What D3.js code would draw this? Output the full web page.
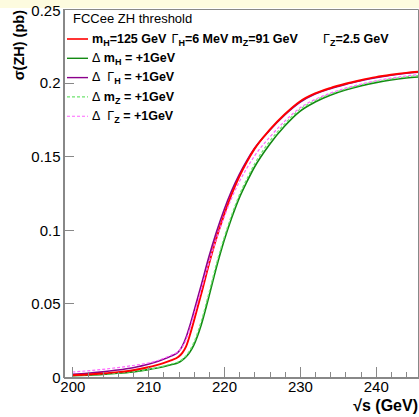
<!DOCTYPE html>
<html>
<head>
    <meta charset='utf-8' />
    <title>FCCee ZH threshold</title>
    <script src="https://cdn.jsdelivr.net/npm/d3@7"></script>
	<style type="text/css">
		body { margin: 0; background: #fff; }
		svg { display: block; font-family: "Liberation Sans", Arial, Helvetica, sans-serif; }
		.axis path, .axis line { fill: none; stroke: #888; shape-rendering: crispEdges; }
		.tick text { font-size: 15px; fill: #000; }
		.curve { fill: none; }
	</style>
</head>
<body>
<div id="chart"></div>

<script type="text/javascript">
	// sqrt(s) sample points (GeV)
	var energies = [200,202,204,206,208,210,211,212,213,214,214.5,215,215.5,216,217,218,219,220,221,222,223,224,226,228,230,232,234,236,238,240,242,244,246];

	// sigma(ZH) in pb
	var nominal = [0.0012,0.0017,0.0024,0.0033,0.0046,0.0066,0.0079,0.0094,0.0113,0.0138,0.0164,0.0208,0.0285,0.0375,0.0565,0.0765,0.0945,0.110,0.124,0.136,0.146,0.1548,0.1678,0.1785,0.1872,0.1926,0.1963,0.1992,0.2016,0.2037,0.2053,0.2066,0.2075];
	var dMH = [0.0009,0.0013,0.0018,0.0025,0.0035,0.0050,0.0059,0.0070,0.0083,0.0098,0.0115,0.0138,0.0170,0.0215,0.0355,0.0545,0.0745,0.0925,0.108,0.1215,0.1325,0.1425,0.158,0.1705,0.1805,0.1868,0.1914,0.1949,0.1977,0.2000,0.2018,0.2031,0.2040];
	var dGH = [0.0018,0.0025,0.0035,0.0047,0.0063,0.0086,0.0102,0.0120,0.0142,0.0172,0.021,0.027,0.035,0.044,0.0625,0.0815,0.0985,0.1135,0.1265,0.1375,0.147,0.1552,0.1675,0.178,0.1866,0.1922,0.1959,0.1988,0.2012,0.2033,0.2050,0.2063,0.2072];
	var dMZ = [0.0010,0.0014,0.0019,0.0026,0.0037,0.0052,0.0062,0.0074,0.0088,0.0103,0.0120,0.0145,0.0182,0.0232,0.038,0.057,0.077,0.0945,0.110,0.1235,0.1345,0.1445,0.160,0.172,0.1818,0.1878,0.1922,0.1956,0.1984,0.2007,0.2025,0.2039,0.2050];
	var dGZ = [0.0034,0.0042,0.0052,0.0064,0.0078,0.0095,0.0108,0.0126,0.0148,0.0176,0.0205,0.0255,0.033,0.0415,0.0595,0.0775,0.094,0.1085,0.1215,0.1325,0.1418,0.150,0.1628,0.1738,0.1828,0.1886,0.1928,0.1962,0.1989,0.2012,0.2030,0.2045,0.2056];

	var xTicks = [200, 210, 220, 230, 240];
	var yTicks = [0, 0.05, 0.1, 0.15, 0.2, 0.25];

	var width = 419, height = 417;
	var frameL = 63, frameR = 418, frameT = 9, frameB = 377;

	var series = [
		{name: "dMH", values: dMH, color: "#138a13", width: 1.6, dash: null},
		{name: "dMZ", values: dMZ, color: "#6ee36e", width: 1.2, dash: "3,2"},
		{name: "dGH", values: dGH, color: "#8b008b", width: 1.6, dash: null},
		{name: "nominal", values: nominal, color: "#ff0000", width: 1.9, dash: null},
		{name: "dGZ", values: dGZ, color: "#ff66ff", width: 1.2, dash: "3,2"}
	];

	var svg = d3.select("#chart").append("svg")
		.attr("width", width)
		.attr("height", height);

	// pale band on top
	svg.append("rect").attr("x", 0).attr("y", 0).attr("width", width).attr("height", 8).attr("fill", "#fdfbdf");

	var x = d3.scaleLinear().domain([198.77, 245.57]).range([frameL, frameR]);
	var y = d3.scaleLinear().domain([0, 0.25]).range([frameB, frameT]);

	svg.append("clipPath").attr("id", "frame")
		.append("rect").attr("x", frameL).attr("y", frameT).attr("width", frameR - frameL).attr("height", frameB - frameT);

	// frame top / right
	svg.append("path")
		.attr("d", "M" + frameL + "," + (frameT + 0.5) + "H" + (frameR + 0.5) + "V" + frameB)
		.attr("fill", "none").attr("stroke", "#888").attr("stroke-width", 1);

	var line = d3.line()
		.x(function(d) { return x(d[0]); })
		.y(function(d) { return y(d[1]); })
		.curve(d3.curveMonotoneX);

	svg.append("g").attr("clip-path", "url(#frame)")
		.selectAll(".curve")
		.data(series)
	  .enter().append("path")
		.attr("class", "curve")
		.attr("d", function(s) { return line(energies.map(function(e, i) { return [e, s.values[i]]; })); })
		.attr("stroke", function(s) { return s.color; })
		.attr("stroke-width", function(s) { return s.width; })
		.attr("stroke-dasharray", function(s) { return s.dash; });

	// x axis: minor ticks then majors (inside)
	var minor = d3.range(200, 246, 2).filter(function(v) { return xTicks.indexOf(v) < 0; });
	svg.append("g").attr("class", "x axis minor")
		.attr("transform", "translate(0," + frameB + ")")
		.call(d3.axisTop(x).tickValues(minor).tickSize(5).tickFormat(""))
		.call(function(g) { g.select(".domain").remove(); });

	svg.append("g").attr("class", "x axis")
		.attr("transform", "translate(0," + frameB + ")")
		.call(d3.axisTop(x).tickValues(xTicks).tickSizeInner(10).tickSizeOuter(0).tickFormat(d3.format("d")))
		.call(function(g) {
			g.select(".domain").attr("stroke-width", 2);
			g.selectAll(".tick text").attr("y", 15).attr("dy", 0);
		});

	svg.append("g").attr("class", "y axis")
		.attr("transform", "translate(" + frameL + ",0)")
		.call(d3.axisRight(y).tickValues(yTicks).tickSizeInner(11).tickSizeOuter(0).tickFormat(function(d) { return String(+d.toFixed(2)); }))
		.call(function(g) {
			g.select(".domain").attr("stroke-width", 2);
			g.selectAll(".tick text").attr("x", -2.5).attr("text-anchor", "end").attr("dy", "0.35em");
			g.selectAll(".tick").filter(function(d) { return d === 0.25; }).select("text").attr("dy", "0.45em");
		});

	// axis titles
	svg.append("text")
		.attr("x", frameR).attr("y", 411)
		.attr("text-anchor", "end")
		.attr("font-size", 16).attr("font-weight", "bold")
		.text("\u221As (GeV)");

	svg.append("text")
		.attr("transform", "translate(24,10) rotate(-90)")
		.attr("text-anchor", "end")
		.attr("font-size", 14.5).attr("font-weight", "bold")
		.text("\u03C3(ZH) (pb)");

	// legend
	var legend = svg.append("g");
	legend.append("text").attr("x", 73).attr("y", 22.7).attr("font-size", 13).text("FCCee ZH threshold");

	var rows = [
		{color: "#ff0000", dash: null, w: 1.6},
		{color: "#138a13", dash: null, w: 1.4},
		{color: "#8b008b", dash: null, w: 1.4},
		{color: "#6ee36e", dash: "3,2", w: 1.1},
		{color: "#ff66ff", dash: "3,2", w: 1.1}
	];
	var rowY = [39, 58.3, 77.6, 96.9, 116.2];
	rows.forEach(function(r, i) {
		legend.append("line")
			.attr("x1", 67).attr("x2", 88)
			.attr("y1", rowY[i]).attr("y2", rowY[i])
			.attr("stroke", r.color).attr("stroke-width", r.w)
			.attr("stroke-dasharray", r.dash);
	});

	function sub(t, s) {
		t.append("tspan").attr("font-size", 9).attr("dy", 3).text(s);
		return t.append("tspan").attr("dy", -3);
	}

	// first row: several pieces placed along the line
	var pieces = [
		{x: 92, sym: "m", sub: "H", rest: "=125 GeV", greek: false},
		{x: 171.5, sym: "\u0393", sub: "H", rest: "=6 MeV", greek: true},
		{x: 231.5, sym: "m", sub: "Z", rest: "=91 GeV", greek: false},
		{x: 323, sym: "\u0393", sub: "Z", rest: "=2.5 GeV", greek: true}
	];
	pieces.forEach(function(p) {
		var t = legend.append("text").attr("x", p.x).attr("y", rowY[0] + 3.7).attr("font-size", 12.5).attr("font-weight", "bold");
		t.append("tspan").attr("font-weight", p.greek ? "normal" : "bold").text(p.sym);
		sub(t, p.sub).text(p.rest);
	});

	var deltaRows = [
		{sym: "m", sub: "H", greek: false},
		{sym: "\u0393", sub: "H", greek: true},
		{sym: "m", sub: "Z", greek: false},
		{sym: "\u0393", sub: "Z", greek: true}
	];
	deltaRows.forEach(function(r, i) {
		var t = legend.append("text").attr("x", 92).attr("y", rowY[i + 1] + 3.7).attr("font-size", 12.5).attr("font-weight", "bold");
		t.append("tspan").attr("font-weight", "normal").text("\u0394" + (r.greek ? "\u00A0\u00A0" : "\u00A0"));
		t.append("tspan").attr("font-weight", r.greek ? "normal" : "bold").text(r.sym);
		sub(t, r.sub).text(" = +1GeV");
	});
</script>
</body>
</html>
